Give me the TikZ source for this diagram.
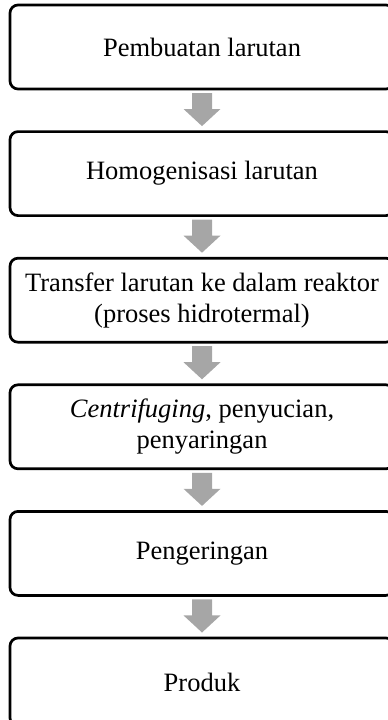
\documentclass[tikz,border=0pt]{standalone}
\usepackage{fontspec}
\setmainfont{Liberation Serif}
\usetikzlibrary{calc}
\definecolor{arrowgray}{HTML}{A6A6A6}
\newcommand{\fatarrow}[2]{%
  \fill[arrowgray] ($(#1.south)+(-10,4)$) -- ($(#1.south)+(10,4)$)
    -- ($(#1.south)+(10,20)$) -- ($(#1.south)+(18.5,20)$)
    -- ($(#2.north)+(0,-5.5)$)
    -- ($(#1.south)+(-18.5,20)$) -- ($(#1.south)+(-10,20)$) -- cycle;}
\begin{document}
\begin{tikzpicture}[x=1pt,y=-1pt,
  stepbox/.style={draw=black, line width=2.7pt, rounded corners=8pt,
    minimum width=384pt, minimum height=84pt, inner sep=0pt, outer sep=0pt,
    align=center, anchor=north, font=\fontsize{26.5}{31}\selectfont}]
\useasboundingbox (0,0) rectangle (388,720);
\clip (0,0) rectangle (388,720);
\node[stepbox] (b1) at (202,5) {Pembuatan larutan};
\node[stepbox] (b2) at (202,131.6) {Homogenisasi larutan};
\node[stepbox] (b3) at (202,258.2) {Transfer larutan ke dalam reaktor\\(proses hidrotermal)};
\node[stepbox] (b4) at (202,384.8) {\textit{Centrifuging}, penyucian,\\penyaringan};
\node[stepbox] (b5) at (202,511.4) {Pengeringan};
\node[stepbox, minimum height=88pt] (b6) at (202,638) {Produk};
\fatarrow{b1}{b2}
\fatarrow{b2}{b3}
\fatarrow{b3}{b4}
\fatarrow{b4}{b5}
\fatarrow{b5}{b6}
\end{tikzpicture}
\end{document}
